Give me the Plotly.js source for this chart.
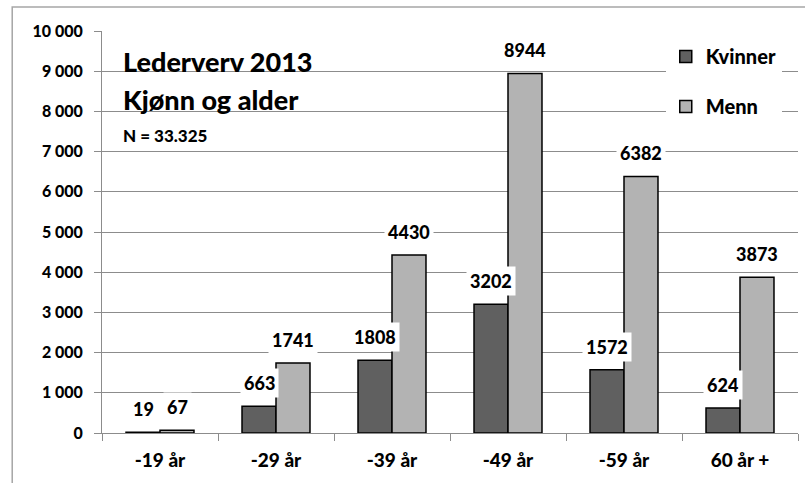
<!DOCTYPE html>
<html>
<head>
<meta charset="utf-8">
<script src="https://cdn.plot.ly/plotly-3.0.1.min.js"></script>
<style>
  body { margin: 0; background: #fff; }
  #graph { width: 805px; height: 483px; }
</style>
</head>
<body>
<div id="graph"></div>
<script>
// Lederverv 2013 - kjonn og alder
var categories = ['-19 år', '-29 år', '-39 år', '-49 år', '-59 år', '60 år +'];
var kvinner = [19, 663, 1808, 3202, 1572, 624];
var menn = [67, 1741, 4430, 8944, 6382, 3873];
var yTicks = [0, 1000, 2000, 3000, 4000, 5000, 6000, 7000, 8000, 9000, 10000];
var yTickText = ['0', '1 000', '2 000', '3 000', '4 000', '5 000', '6 000', '7 000', '8 000', '9 000', '10 000'];

var font = 'Lato, "Open Sans", sans-serif';
var W = 900; // heavy weight, closer to the original's bold text
var barShift = 17; // half a bar, px

var trace1 = {
  x: categories,
  y: kvinner,
  type: 'bar',
  name: 'Kvinner',
  legendgroup: 'k',
  marker: { color: '#606060', line: { color: '#000', width: 1.5 } },
  hoverinfo: 'y'
};
var trace2 = {
  x: categories,
  y: menn,
  type: 'bar',
  name: 'Menn',
  legendgroup: 'm',
  marker: { color: '#b3b3b3', line: { color: '#000', width: 1.5 } },
  hoverinfo: 'y'
};

// data labels with white background (cuts the gridlines like the original)
var annotations = [];
function addLabels(vals, shift) {
  for (var i = 0; i < vals.length; i++) {
    annotations.push({
      x: categories[i], y: vals[i], xref: 'x', yref: 'y',
      text: String(vals[i]), showarrow: false,
      xshift: shift, yshift: 23, yanchor: 'middle',
      bgcolor: '#fff', borderpad: 3,
      font: { family: font, size: 18, color: '#000', weight: W }
    });
  }
}
addLabels(kvinner, -barShift);
addLabels(menn, barShift);

// title block
annotations.push({
  xref: 'paper', yref: 'paper', x: 0.027, y: 0.925, xanchor: 'left', yanchor: 'middle',
  text: 'Lederverv 2013', showarrow: false,
  font: { family: font, size: 27, color: '#000', weight: W }
});
annotations.push({
  xref: 'paper', yref: 'paper', x: 0.027, y: 0.83, xanchor: 'left', yanchor: 'middle',
  text: 'Kjønn og alder', showarrow: false,
  font: { family: font, size: 27, color: '#000', weight: W }
});
annotations.push({
  xref: 'paper', yref: 'paper', x: 0.027, y: 0.741, xanchor: 'left', yanchor: 'middle',
  text: 'N = 33.325', showarrow: false,
  font: { family: font, size: 17, color: '#000', weight: W }
});

var layout = {
  width: 805,
  height: 483,
  margin: { l: 102, r: 7, t: 31, b: 50 },
  paper_bgcolor: '#fff',
  plot_bgcolor: '#fff',
  barmode: 'group',
  bargap: 0.414,
  bargroupgap: 0,
  font: { family: font, color: '#000', weight: W },
  xaxis: {
    type: 'category',
    showline: true, linecolor: '#8c8c8c', linewidth: 1,
    ticks: 'outside', tickson: 'boundaries', ticklen: 7, tickcolor: '#8c8c8c',
    ticklabelstandoff: 10,
    tickfont: { family: font, size: 19, weight: W },
    showgrid: false
  },
  yaxis: {
    range: [0, 10000],
    tickvals: yTicks,
    ticktext: yTickText,
    showline: true, linecolor: '#8c8c8c', linewidth: 1,
    ticks: 'outside', ticklen: 7, tickcolor: '#8c8c8c',
    ticklabelstandoff: 8,
    tickfont: { family: font, size: 16, weight: W },
    showgrid: true, gridcolor: '#8c8c8c', gridwidth: 1,
    zeroline: false
  },
  legend: {
    x: 0.81, y: 0.985, xanchor: 'left', yanchor: 'top',
    bgcolor: '#fff',
    tracegroupgap: 21,
    font: { family: font, size: 20, weight: W }
  },
  annotations: annotations,
  shapes: [
    // white box behind the title text
    { type: 'rect', xref: 'paper', yref: 'paper', x0: 0.002, x1: 0.359, y0: 0.68, y1: 0.975,
      fillcolor: '#fff', line: { width: 0 }, layer: 'between' },
    // outer chart border
    { type: 'rect', xref: 'paper', yref: 'paper', x0: -0.129, x1: 1.02, y0: -0.4, y1: 1.06,
      fillcolor: 'rgba(0,0,0,0)', line: { color: '#a6a6a6', width: 1.5 }, layer: 'below' }
  ]
};

Plotly.newPlot('graph', [trace1, trace2], layout, { displayModeBar: false, staticPlot: true });
</script>
</body>
</html>
